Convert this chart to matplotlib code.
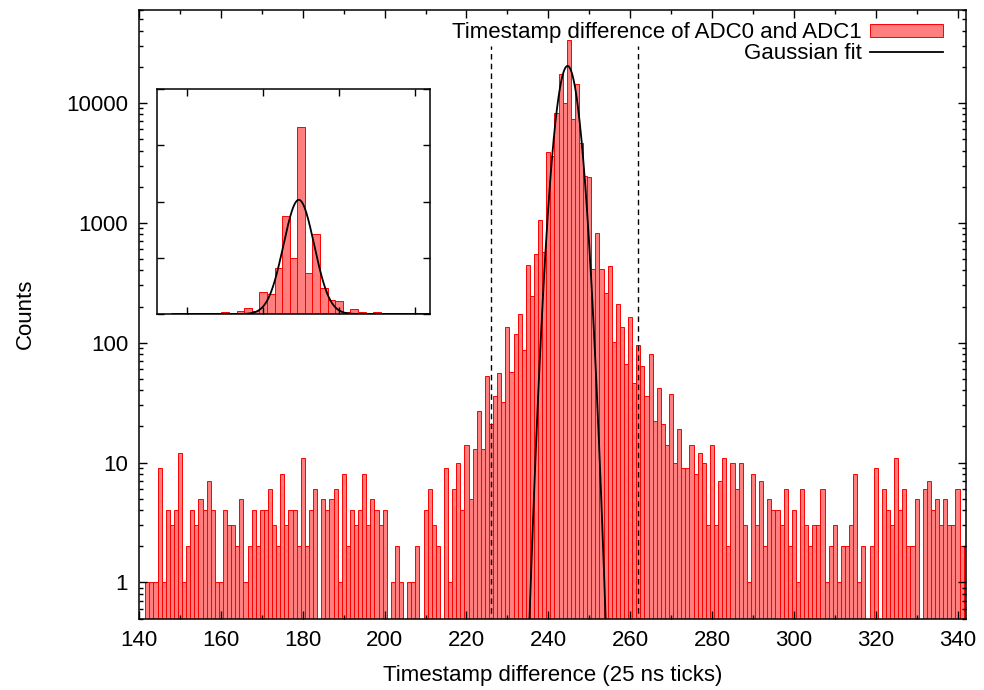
import numpy as np
import matplotlib
matplotlib.use("Agg")
import matplotlib.pyplot as plt
from matplotlib.ticker import FixedLocator, LogLocator, NullFormatter

plt.rcParams['font.family'] = ['Liberation Sans', 'DejaVu Sans']

# histogram: one bin per tick, first bin centred at 142
FIRST_BIN = 142
COUNTS = [
    1, 1, 1, 9, 1, 4, 3, 4, 12, 1,              # 142-151
    2, 4, 3, 5, 4, 7, 4, 1, 1, 4,               # 152-161
    3, 3, 2, 5, 1, 2, 4, 2, 4, 4,               # 162-171
    6, 3, 2, 8, 3, 4, 4, 2, 11, 2,              # 172-181
    4, 6, 0, 5, 4, 5, 6, 1, 8, 2,               # 182-191
    4, 3, 4, 8, 3, 5, 4, 3, 4, 0,               # 192-201
    1, 2, 1, 0, 1, 1, 2, 0, 4, 6,               # 202-211
    3, 2, 0, 9, 1, 6, 10, 4, 14, 5,             # 212-221
    13, 27, 13, 53, 21, 36, 56, 32, 135, 57,    # 222-231
    119, 172, 87, 444, 244, 548, 1054, 570, 3900, 3600,          # 232-241
    8200, 17500, 10000, 33200, 7300, 14300, 4600, 2450, 2400, 415,  # 242-251
    816, 408, 261, 437, 101, 211, 134, 66, 165, 46,  # 252-261
    95, 64, 36, 81, 22, 42, 21, 14, 37, 10,     # 262-271
    19, 9, 9, 14, 8, 12, 10, 3, 14, 3,          # 272-281
    7, 11, 2, 10, 6, 10, 3, 1, 8, 3,            # 282-291
    7, 2, 5, 4, 4, 3, 6, 2, 4, 1,               # 292-301
    6, 3, 2, 3, 3, 6, 1, 2, 3, 1,               # 302-311
    2, 2, 3, 8, 1, 2, 0, 2, 9, 0,               # 312-321
    6, 4, 3, 11, 4, 6, 2, 2, 5, 0,              # 322-331
    6, 7, 4, 5, 3, 5, 3, 3, 6, 2, 2,            # 332-342
]
BINS = list(range(FIRST_BIN, FIRST_BIN + len(COUNTS)))

# gaussian fit and the selection window
FIT_AMPLITUDE = 20300
FIT_MEAN = 244.7
FIT_SIGMA = 2.02
WINDOW = [226, 262]

X_TICKS = [140, 160, 180, 200, 220, 240, 260, 280, 300, 320, 340]
Y_TICKS = [1, 10, 100, 1000, 10000]
Y_TICK_LABELS = ['1', '10', '100', '1000', '10000']
INSET_X_TICKS = [230, 240, 250, 260]
INSET_Y_TICKS = [0, 10000, 20000, 30000, 40000]

FONT_SIZE = 16
BAR_FACE = (1.0, 0.0, 0.0, 0.5)
BAR_EDGE = '#ff0000'


def gaussian(x):
    return FIT_AMPLITUDE * np.exp(-(x - FIT_MEAN) ** 2 / (2 * FIT_SIGMA ** 2))


def draw_histogram(ax, bottom):
    bins = np.array(BINS)
    counts = np.array(COUNTS, dtype=float)
    keep = counts > 0
    bars = ax.bar(bins[keep], counts[keep] - bottom, width=1.0, bottom=bottom,
                  color=BAR_FACE, edgecolor=BAR_EDGE, linewidth=0.7)
    xs = np.linspace(228, 262, 800)
    line, = ax.plot(xs, gaussian(xs), color='black', linewidth=1.3)
    return bars, line


def plot_main():
    fig = plt.figure(figsize=(9.84, 6.9), dpi=100)
    ax = fig.add_axes([0.1414, 0.1036, 0.8400, 0.8826])
    ax.set_yscale('log')
    bars, line = draw_histogram(ax, 0.05)

    for x in WINDOW:
        ax.plot([x, x], [0.05, 30000], color='black', linewidth=1.0,
                linestyle=(0, (4, 3)))

    ax.set_xlim(140, 342)
    ax.set_ylim(0.5, 60000)
    ax.xaxis.set_major_locator(FixedLocator(X_TICKS))
    ax.xaxis.set_minor_locator(FixedLocator([t + 10 for t in X_TICKS[:-1]]))
    ax.set_yticks(Y_TICKS)
    ax.set_yticklabels(Y_TICK_LABELS)
    ax.yaxis.set_minor_locator(LogLocator(base=10, subs=range(2, 10)))
    ax.yaxis.set_minor_formatter(NullFormatter())
    ax.tick_params(which='both', direction='in', top=True, right=True,
                   labelsize=FONT_SIZE, width=1.0)
    ax.tick_params(which='major', length=6, pad=8)
    ax.tick_params(which='minor', length=3)
    for s in ax.spines.values():
        s.set_linewidth(1.1)

    ax.set_xlabel('Timestamp difference (25 ns ticks)', fontsize=FONT_SIZE, labelpad=10)
    ax.set_ylabel('Counts', fontsize=FONT_SIZE, labelpad=22)

    ax.legend([bars, line], ['Timestamp difference of ADC0 and ADC1', 'Gaussian fit'],
              loc='upper right', bbox_to_anchor=(0.9725, 0.979), markerfirst=False,
              frameon=False, fontsize=FONT_SIZE, handlelength=3.3, handleheight=0.55,
              handletextpad=0.35, labelspacing=0.0, borderpad=0, borderaxespad=0)

    # linear-scale inset of the peak region
    axin = fig.add_axes([0.1596, 0.5449, 0.2774, 0.3261])
    draw_histogram(axin, 0)
    axin.set_xlim(WINDOW[0], WINDOW[1])
    axin.set_ylim(0, 40000)
    axin.set_xticks(INSET_X_TICKS)
    axin.set_yticks(INSET_Y_TICKS)
    axin.set_xticklabels([])
    axin.set_yticklabels([])
    axin.tick_params(direction='in', top=True, right=True, length=5, width=1.0)
    for s in axin.spines.values():
        s.set_linewidth(1.1)

    fig.savefig('out.png', dpi=100)


if __name__ == "__main__":
    plot_main()
